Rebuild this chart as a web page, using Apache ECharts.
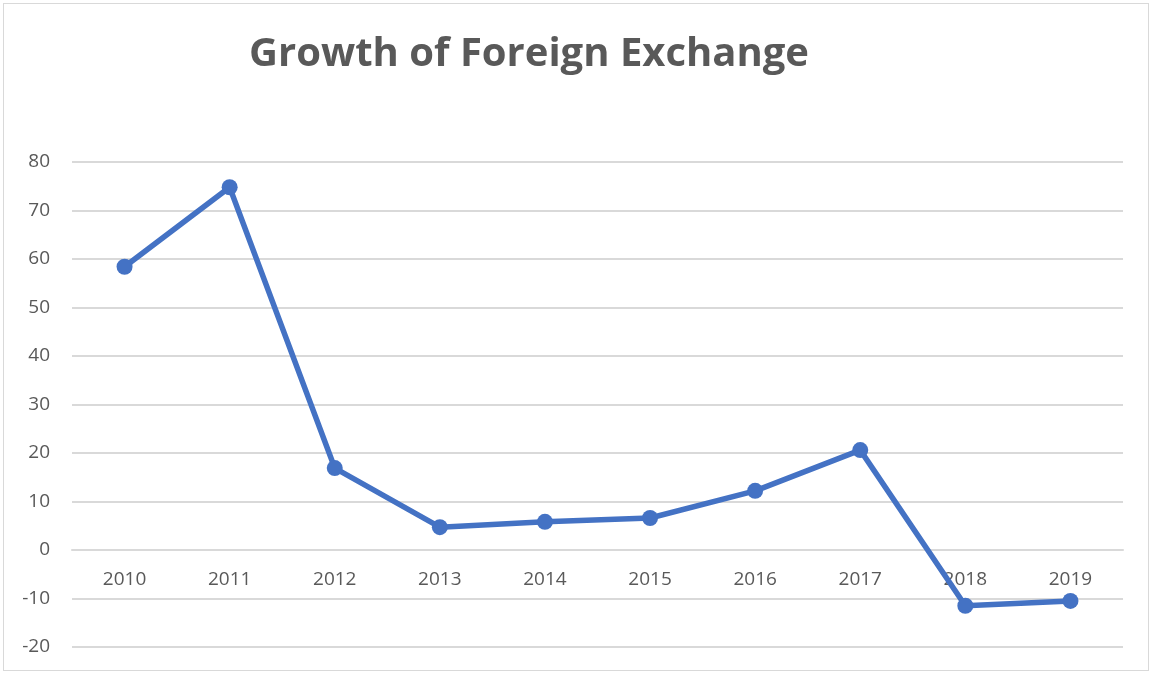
<!DOCTYPE html>
<html>
<head>
  <meta charset="utf-8" />
  <title>Growth of Foreign Exchange</title>
  <script src="https://cdn.jsdelivr.net/npm/echarts@6.0.0/dist/echarts.min.js"></script>
</head>
<style>
  body { margin: 0; padding: 0; overflow: hidden; background: #fff; }
  #main { position: absolute; left: 3px; top: 3px; width: 1146px; height: 668px; border: 1px solid #d9d9d9; box-sizing: border-box; }
</style>
<body>
  <div id="main"></div>
  <script type="text/javascript">
    // years and growth values
    const years = ['2010', '2011', '2012', '2013', '2014', '2015', '2016', '2017', '2018', '2019'];
    const growth = [58.4, 74.8, 16.9, 4.7, 5.8, 6.6, 12.2, 20.6, -11.5, -10.5];
    const yTicks = { min: -20, max: 80, interval: 10 };

    const myChart = echarts.init(document.getElementById('main'));
    const option = {
      animation: false,
      title: {
        text: 'Growth of Foreign Exchange',
        left: 520,
        top: 26,
        textAlign: 'center',
        textStyle: { fontFamily: 'Open Sans', fontWeight: 'bold', fontSize: 40, color: '#595959' }
      },
      grid: { left: 68, right: 25, top: 158, bottom: 23, outerBoundsMode: 'none' },
      xAxis: {
        type: 'category',
        data: years,
        boundaryGap: true,
        // sit the category axis on the zero line, as in the original
        offset: -97.5,
        axisLine: { show: true, onZero: false, lineStyle: { color: '#d9d9d9', width: 2 } },
        axisTick: { show: false },
        axisLabel: { fontFamily: 'Open Sans', fontSize: 19, color: '#595959', margin: 21 },
        splitLine: { show: false }
      },
      yAxis: {
        type: 'value',
        min: yTicks.min,
        max: yTicks.max,
        interval: yTicks.interval,
        axisLine: { show: false },
        axisTick: { show: false },
        axisLabel: { fontFamily: 'Open Sans', fontSize: 19, color: '#595959', margin: 22 },
        splitLine: { lineStyle: { color: '#d9d9d9', width: 2 } }
      },
      series: [{
        type: 'line',
        data: growth,
        symbol: 'circle',
        symbolSize: 16,
        lineStyle: { color: '#4472c4', width: 5.5 },
        itemStyle: { color: '#4472c4' }
      }]
    };
    myChart.setOption(option);
  </script>
</body>
</html>
